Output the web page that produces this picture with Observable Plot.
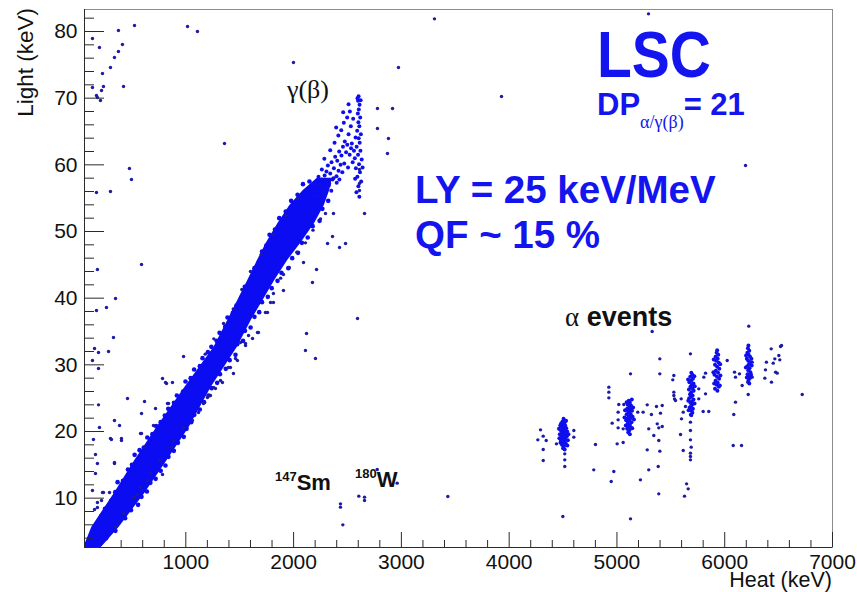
<!DOCTYPE html>
<html><head><meta charset="utf-8">
<script src="https://cdn.jsdelivr.net/npm/d3@7"></script>
<script src="https://cdn.jsdelivr.net/npm/@observablehq/plot@0.6"></script>
<style>body{margin:0;background:#fff}svg{display:block}</style>
</head><body><div id="chart"></div>
<script>
// ---- data (Heat keV, Light keV) ----
const xTicks = [1000, 2000, 3000, 4000, 5000, 6000, 7000];
const yTicks = [10, 20, 30, 40, 50, 60, 70, 80];
const xMinorTicks = [200,400,600,800,1200,1400,1600,1800,2200,2400,2600,2800,3200,3400,3600,3800,4200,4400,4600,4800,5200,5400,5600,5800,6200,6400,6600,6800];
const yMinorTicks = [4,6,8,12,14,16,18,22,24,26,28,32,34,36,38,42,44,46,48,52,54,56,58,62,64,66,68,72,74,76,78,82];

// dense gamma(beta) band: for each light level, the heat range it covers
const bandLight  = [2.6, 2.9, 5.65, 10.6, 15.65, 20.6, 26.6, 32.6, 36.65, 42.65, 45.65, 48.2, 51.2, 53.9, 56.15, 58.0];
const bandHeatLo = [60, 60, 128, 332, 527, 731, 991, 1260, 1389, 1575, 1665, 1745, 1855, 1965, 2090, 2220];
const bandHeatHi = [215, 233, 382, 614, 827, 1031, 1235, 1477, 1607, 1825, 1945, 2065, 2195, 2285, 2335, 2360];

// sparse upper end of the gamma band
const gammaTop = [
 [2165,56.3],[2190,57.1],[2212,56.0],[2231,58.2],[2248,57.0],[2262,59.3],[2275,56.6],[2288,58.4],[2301,57.6],[2318,59.9],
 [2327,56.9],[2340,58.7],[2352,60.4],[2361,57.8],[2374,59.5],[2386,61.2],[2398,58.3],[2405,60.6],[2417,59.1],[2423,62.0],
 [2436,60.0],[2444,61.4],[2458,62.7],[2232,55.4],[2280,55.9],[2330,57.2],[2196,55.2],[2350,56.1],[2400,57.3],[2452,58.9],
 [2470,60.2],[2487,61.9],[2475,63.5],[2498,63.0],[2510,64.6],[2520,61.5],[2531,65.8],[2540,63.2],[2553,66.9],[2560,62.1],
 [2548,60.4],[2505,59.6],[2380,63.3],[2415,64.4],[2442,65.2],[2466,66.3],[2497,67.1],[2522,68.0],[2533,62.5],
 [2603,70.3],[2598,69.6],[2612,69.0],[2605,68.3],[2596,67.7],[2618,67.1],[2601,66.4],[2610,65.8],[2590,65.1],[2624,64.6],
 [2604,64.0],[2613,63.3],[2585,62.7],[2620,62.1],[2598,61.5],[2632,60.8],[2607,60.1],[2578,59.5],[2616,58.9],[2592,58.2],
 [2627,57.5],[2601,56.8],[2571,57.9],[2583,55.9],[2610,55.2],[2640,59.6],[2575,64.1],[2568,61.0],[2622,69.7],[2593,70.0],
 [2285,60.9],[2340,62.2],[2395,65.6],[2460,67.9],[2510,69.1],[2262,57.8],[2305,59.0],[2370,58.0],[2425,57.8]
];

// events sitting on the ragged edges of the band
const bandEdge = [
 [165,5.2],[215,7.3],[250,8.4],[307,9.6],[345,10.9],[367,12.4],[417,12.6],[463,14.3],[500,15.0],[525,16.5],[571,17.2],[610,17.6],
 [643,19.1],[690,19.6],[725,20.8],[767,21.4],[805,22.4],[837,23.4],[890,24.3],[917,25.4],[975,26.0],[997,27.5],[1045,28.0],
 [1077,29.3],[1130,29.8],[1155,31.0],[1205,31.9],[1237,32.7],[1285,33.6],[1313,34.8],[1365,35.7],[1387,37.1],[1437,37.8],
 [1470,38.9],[1517,40.1],[1547,41.7],[1605,42.6],[1637,44.5],[1677,45.4],[1707,47.0],[1747,47.9],[1777,49.5],[1827,50.3],
 [1867,52.0],[1927,53.0],[1977,54.6],[2037,55.5],[2087,57.1],[2147,57.5],
 [205,3.4],[260,4.0],[347,5.1],[380,6.6],[437,7.0],[491,8.2],[557,9.0],[589,10.2],[639,11.0],[671,12.3],[720,12.9],[767,14.1],
 [811,14.9],[839,16.2],[889,17.1],[927,18.3],[981,19.2],[1007,20.4],[1050,21.4],[1079,22.5],[1130,23.3],[1169,24.4],[1211,25.4],
 [1239,26.5],[1291,27.3],[1317,28.6],[1371,29.4],[1407,30.7],[1461,31.5],[1477,33.1],[1531,33.6],[1549,35.1],[1601,35.6],
 [1637,37.2],[1681,37.9],[1707,39.4],[1761,40.2],[1797,41.5],[1851,42.6],[1887,43.8],[1951,44.5],[1987,46.0],[2041,46.8],
 [2077,48.3],[2131,49.1],[2177,50.8],[2241,51.6],[2267,53.4],[2321,54.6]
];

// outlying events near the band
const gammaFringe = [
 [886,18.65],[979,20.6],[1062,21.65],[1164,24.2],[1210,25.4],[1257,26.6],[1322,27.65],[1414,29.6],[1479,30.65],[1554,32.9],
 [1665,34.85],[1739,37.85],[1813,40.7],[1786,39.35],[1619,33.95],[1442,28.7],[1118,22.85],[765,15.65],[672,13.7],[580,11.6],
 [515,10.1],[422,7.7],[348,5.65],[617,17.65],[756,15.65],[784,13.55],[867,17.65],[644,12.65],[524,10.1],[552,10.55],
 [1674,34.85],[1582,34.4],[1507,33.35],[1461,30.95],[1396,29.6],[1340,27.35],[1275,26.45],[1229,25.4],[1201,25.1],[1554,33.2],
 [1758,37.85],[1813,39.35],[1880,43.0],[1960,44.6],[2030,46.9],[2110,48.3],[2180,50.2],[2250,51.9],
 [589,19.7],[700,20.9],[580,19.7],[719,23.45],[821,27.2],[876,27.35],[784,27.95],[979,31.25],[830,24.2],[812,27.35],[840,24.2],
 [459,24.95],[617,24.5],[589,22.7],[338,21.65],[385,20.9],[403,18.95],[403,18.65],[338,15.2],[338,15.35],[310,18.8],[301,18.95],
 [236,10.85],[227,10.85],[292,10.85],[218,9.65],[180,8.6],[153,8.3],[180,9.35],[134,11.15],[162,13.7],[180,15.2],[162,16.55],
 [143,18.8],[199,20.6],[190,24.0],[190,29.45],[134,30.65],[190,31.85],[283,32.0],[153,32.45],[329,34.1],[171,38.15],[264,38.6],
 [1180,31.6],[1260,33.9],[1350,36.2],[1440,38.4],[1520,41.3],[1600,44.0],[1700,46.6],[1810,49.5],[1930,52.4],[2040,55.0]
];

// isolated events (left column, top, right of the band, bottom)
const strayEvents = [
 [134,78.95],[134,71.6],[199,77.6],[375,80.15],[524,80.9],[1016,80.75],[1108,80.0],[412,78.05],[375,77.0],[338,76.1],
 [301,74.6],[227,73.7],[236,71.75],[422,71.75],[171,70.4],[208,69.65],[180,70.1],[218,71.15],[1999,75.35],[1359,63.2],
 [477,59.45],[496,57.8],[171,55.85],[301,56.0],[589,45.05],[180,44.3],[348,39.95],
 [2973,74.6],[3929,70.25],[5293,82.65],[3307,81.9],[6193,59.9],
 [2778,68.45],[2918,68.45],[2778,65.45],[2880,63.95],[2871,61.7],[2611,59.3],[2611,57.2],[2611,56.15],[2658,52.7],
 [2361,49.25],[2315,48.2],[2482,48.2],[2426,47.6],[2213,44.3],[2175,42.35],[1906,41.15],[2593,36.95],[2120,34.7],
 [2110,32.15],[2203,30.95],[2092,45.35],[2370,52.7],[2296,52.7],[1906,43.55],
 [2776,14.3],[2961,12.25],[2435,9.15],[2435,8.65],[2605,10.3],[2658,10.15],[2658,9.65],[2457,6.0],[3431,10.25]
];

// alpha bands (dense cores)
const alphaCores = [
 [4505,21.9],[4495,21.5],[4515,21.4],[4500,21.0],[4520,20.9],[4488,20.7],[4510,20.6],[4530,20.5],[4498,20.3],[4478,20.2],
 [4518,20.1],[4505,19.9],[4490,19.8],[4525,19.7],[4470,19.6],[4512,19.5],[4500,19.4],[4535,19.3],[4485,19.2],[4508,19.1],
 [4520,18.9],[4495,18.8],[4480,18.6],[4512,18.5],[4500,18.3],[4525,18.2],[4490,18.0],[4508,17.8],[4500,17.5],[4515,17.3],
 [4474,20.9],[4538,20.0],[4466,19.0],[4545,18.7],[4482,21.2],[4528,21.6],[4462,20.4],[4550,19.6],[4476,18.3],[4540,17.9],
 [5110,24.6],[5120,24.3],[5100,24.0],[5130,23.9],[5115,23.6],[5095,23.4],[5125,23.3],[5140,23.1],[5105,23.0],[5118,22.8],
 [5090,22.6],[5130,22.5],[5110,22.3],[5145,22.2],[5100,22.0],[5122,21.9],[5085,21.7],[5112,21.6],[5135,21.4],[5100,21.2],
 [5120,21.0],[5108,20.8],[5128,20.6],[5095,20.4],[5115,20.2],[5105,19.9],[5120,19.6],
 [5075,23.2],[5150,23.6],[5070,22.1],[5158,21.8],[5082,20.9],[5142,20.5],[5090,24.4],[5138,24.8],
 [5690,28.8],[5700,28.5],[5680,28.2],[5705,27.9],[5688,27.6],[5672,27.4],[5710,27.2],[5695,27.0],[5682,26.7],[5700,26.5],
 [5668,26.3],[5712,26.1],[5690,25.9],[5678,25.6],[5702,25.4],[5688,25.2],[5670,25.0],[5710,24.8],[5695,24.5],[5682,24.3],
 [5700,24.1],[5688,23.8],[5675,23.6],[5705,23.4],[5692,23.1],[5700,22.8],[5685,22.5],
 [5660,27.8],[5722,26.8],[5662,24.6],[5720,24.2],[5718,28.3],[5665,23.2],
 [5930,32.2],[5925,31.8],[5940,31.5],[5915,31.2],[5935,30.9],[5920,30.6],[5945,30.3],[5910,30.0],[5930,29.7],[5950,29.4],
 [5918,29.1],[5938,28.8],[5905,28.5],[5928,28.2],[5948,27.9],[5915,27.6],[5935,27.3],[5925,27.0],[5945,26.7],[5910,26.4],[5932,26.1],
 [5898,30.8],[5958,30.1],[5895,28.9],[5960,28.4],[5902,27.2],[5955,26.9],
 [6220,32.9],[6215,32.5],[6228,32.1],[6210,31.8],[6222,31.5],[6235,31.2],[6205,30.9],[6218,30.6],[6240,30.4],[6225,30.1],
 [6210,29.8],[6230,29.5],[6218,29.2],[6238,28.9],[6212,28.6],[6225,28.3],[6232,28.0],[6220,27.6],[6228,27.2],
 [6198,31.4],[6248,30.9],[6196,29.6],[6250,29.9],[6205,28.1],[6245,28.5]
];

// scattered events around the alpha bands
const alphaScatter = [
 [4291,20.25],[4266,18.75],[4316,19.3],[4344,18.65],[4316,17.3],[4316,15.65],[4439,18.15],[4600,20.15],[4600,19.15],
 [4516,16.65],[4516,15.75],[4516,14.75],[4498,7.25],
 [4925,26.65],[4925,25.9],[4925,25.05],[5126,28.65],[5398,30.9],[5398,28.65],[5327,35.0],
 [5017,24.05],[5064,24.05],[5011,22.9],[5011,21.75],[4956,21.25],[5011,20.55],[5058,20.4],[5193,22.9],[5243,22.9],[5281,24.0],
 [4801,18.05],[4785,14.25],[4947,12.5],[4971,14.0],[5002,18.15],[5058,18.35],[5126,6.9],[5218,12.75],[5281,17.25],[5295,14.25],
 [5320,22.55],[5295,20.4],[5342,19.4],[5367,23.75],[5420,23.9],[5404,22.75],[5374,21.15],[5388,20.55],[5420,20.75],[5388,18.65],
 [5398,17.05],[5383,14.75],[5388,10.65],
 [5682,31.65],[5692,22.4],[5682,21.4],[5682,20.15],[5682,18.75],[5689,17.65],[5682,16.75],[5682,16.25],[5682,15.75],
 [5646,12.15],[5661,11.4],[5627,10.3],
 [5590,19.55],[5615,17.15],[5599,21.9],[5615,22.9],[5636,23.75],[5596,24.9],[5528,25.9],[5534,24.9],[5543,24.65],[5528,28.4],
 [5518,27.75],[5528,25.4],[5759,26.4],[5759,24.9],[5800,23.0],[5852,23.0],[5806,28.15],[5822,28.75],[5822,25.65],
 [6023,30.65],[6091,28.9],[6100,28.15],[6137,28.65],[6162,26.9],[6100,24.4],[6084,22.55],[6079,17.9],[6156,17.9],
 [6255,30.4],[6214,27.4],[6218,25.55],[6223,35.8],[6255,28.15],
 [6431,32.4],[6518,32.75],[6527,32.9],[6502,31.4],[6465,30.9],[6450,30.25],[6511,30.75],[6387,30.4],[6378,29.25],[6487,28.75],
 [6372,28.0],[6434,27.4],[6472,28.9],[6719,25.55]
];

// ---- layout ----
const W = 857, H = 592, mL = 84, mR = 25, mT = 9, mB = 45;
const innerW = W - mL - mR, innerH = H - mT - mB;
const band = bandLight.map((l, i) => ({light: l, lo: bandHeatLo[i], hi: bandHeatHi[i]}));
const navy = "#1b1ba6", bright = "#0f0fee", bandBlue = "#0c0cf2", axisC = "#2a2a2a";
const sans = "'Liberation Sans', Arial, sans-serif";

const chart = Plot.plot({
  width: W, height: H,
  marginLeft: mL, marginRight: mR, marginTop: mT, marginBottom: mB,
  style: {fontFamily: sans, background: "#fff", color: "#111"},
  x: {domain: [60, 7000]},
  y: {domain: [2.6, 83.3]},
  marks: [
    Plot.areaX(band, {y: "light", x1: "lo", x2: "hi", fill: bandBlue, clip: true}),
    Plot.dot(bandEdge, {x: d => d[0], y: d => d[1], r: 2.3, fill: bandBlue, clip: true}),
    Plot.dot(gammaTop, {x: d => d[0], y: d => d[1], r: 2, fill: bright, clip: true}),
    Plot.dot(gammaFringe, {x: d => d[0], y: d => d[1], r: 1.7, fill: navy, clip: true}),
    Plot.dot(strayEvents, {x: d => d[0], y: d => d[1], r: 1.7, fill: navy, clip: true}),
    Plot.dot(alphaScatter, {x: d => d[0], y: d => d[1], r: 1.7, fill: navy, clip: true}),
    Plot.dot(alphaCores, {x: d => d[0], y: d => d[1], r: 2, fill: bright, clip: true}),
    Plot.frame({stroke: "#8c8c8c"}),
    Plot.ruleX(xMinorTicks, {insetTop: innerH - 7, stroke: axisC}),
    Plot.ruleX(xTicks, {insetTop: innerH - 15, stroke: axisC}),
    Plot.ruleY(yMinorTicks, {insetRight: innerW - 10, stroke: axisC}),
    Plot.ruleY(yTicks, {insetRight: innerW - 20, stroke: axisC}),
    Plot.ruleX([60], {stroke: axisC}),
    Plot.ruleY([2.6], {stroke: axisC}),
    Plot.axisX(xTicks, {tickSize: 0, tickPadding: 7, fontSize: 21, tickFormat: d => String(d), label: null}),
    Plot.axisY(yTicks, {tickSize: 0, tickPadding: 7, fontSize: 21, tickFormat: d => String(d), label: null})
  ]
});
document.getElementById("chart").appendChild(chart);

// ---- annotations placed through the chart's scales ----
const sx = chart.scale("x"), sy = chart.scale("y");
const svg = d3.select(chart);
const g = svg.append("g");
function label(parts, heat, light, opts = {}) {
  const px = sx.apply(heat), py = sy.apply(light);
  const t = g.append("text").attr("text-anchor", opts.anchor || "start");
  if (opts.scaleY) t.attr("transform", `translate(${px},${py}) scale(1,${opts.scaleY})`);
  else t.attr("x", px).attr("y", py);
  for (const p of parts) {
    const s = t.append("tspan").text(p.text)
      .attr("font-family", p.family || sans)
      .attr("font-size", p.size).attr("font-weight", p.weight || "normal")
      .attr("fill", p.color || "#111");
    if (p.dy) s.attr("dy", p.dy);
  }
  return t;
}
const serif = "'Liberation Serif', 'DejaVu Serif', serif";
const blue = "#1414ee";
label([{text: "γ(β)", size: 26, family: serif}], 1943, 69.9);
label([{text: "LY = 25 keV/MeV", size: 38.5, weight: "bold", color: blue}], 3131, 54.2);
label([{text: "QF ~ 15 %", size: 38.5, weight: "bold", color: blue}], 3131, 47.4);
label([{text: "LSC", size: 57, weight: "bold", color: blue}], 4820, 73.1, {scaleY: 1.15});
label([{text: "DP", size: 31, weight: "bold", color: blue},
       {text: "α/γ(β)", size: 18, family: serif, color: blue, dy: 13},
       {text: "= 21", size: 31, weight: "bold", color: blue, dy: -13}], 4820, 67.4);
label([{text: "α", size: 27, family: serif}, {text: " events", size: 27, weight: "bold"}], 4523, 35.75);
label([{text: "147", size: 13, weight: "bold", dy: -9}, {text: "Sm", size: 22, weight: "bold", dy: 9}], 1832, 11.2);
label([{text: "180", size: 13, weight: "bold", dy: -9}, {text: "W", size: 22, weight: "bold", dy: 9}], 2574, 11.65);

// axis titles
svg.append("text").attr("transform", "translate(33,8) rotate(-90)")
  .attr("text-anchor", "end").attr("font-size", 22.5).attr("fill", "#111")
  .attr("font-family", sans).text("Light (keV)");
svg.append("text").attr("x", W - mR).attr("y", 587)
  .attr("text-anchor", "end").attr("font-size", 21.5).attr("fill", "#111")
  .attr("font-family", sans).text("Heat (keV)");
</script>
</body></html>
